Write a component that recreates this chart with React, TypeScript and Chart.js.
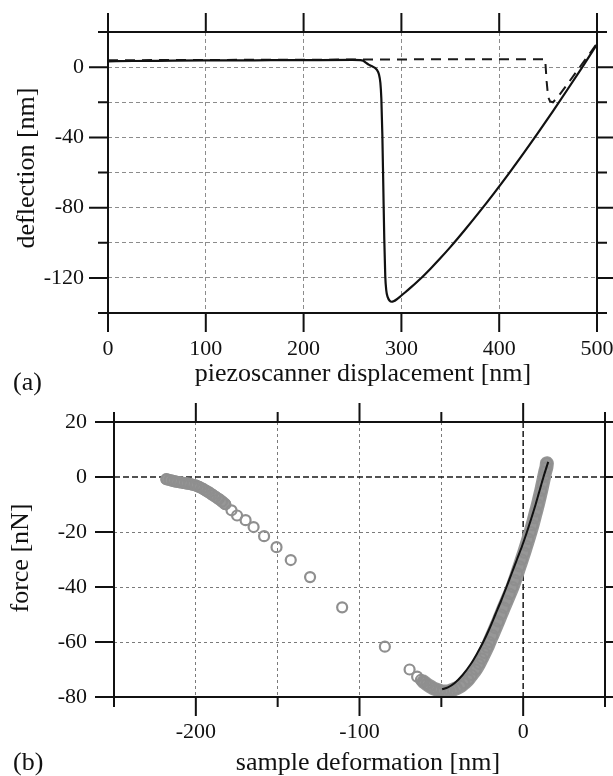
import { useEffect, useRef } from 'react';
import { Chart, registerables } from 'chart.js';

Chart.register(...registerables);

const FONT = '"Liberation Serif", "Times New Roman", serif';

// ---------- panel (a): deflection vs piezoscanner displacement ----------
const retractX = [0, 25, 50, 100, 150, 200, 250, 258, 261, 264, 267, 270, 273, 275, 277, 278.5, 279.5, 280.5, 281.5, 282.5, 283.5, 284.5, 286, 288, 290, 292, 295, 299, 304, 310, 320, 330, 340, 350, 365, 380, 395, 410, 425, 440, 455, 470, 485, 500];
const retractY = [3.3, 3.5, 3.6, 3.8, 3.9, 4.0, 4.1, 4.0, 3.6, 2.4, 1.3, 0.5, -0.4, -1.6, -4, -9, -18, -38, -68, -98, -119, -127, -131, -133, -133.6, -133.3, -132.3, -130.5, -128.2, -125.3, -120.2, -114.6, -108.7, -102.5, -92.6, -82.3, -71.6, -60.5, -49, -37.2, -25, -12.6, 0, 13];
const approachX = [0, 100, 200, 300, 400, 447, 448.5, 450, 452, 455, 460, 470, 480, 490, 500];
const approachY = [3.9, 4.1, 4.2, 4.4, 4.5, 4.5, -8, -17, -19.5, -20, -17, -9.5, -1.8, 5.8, 13.5];
const aXTicks = [0, 100, 200, 300, 400, 500];
const aYTicks = [-140, -120, -100, -80, -60, -40, -20, 0, 20];

// ---------- panel (b): force vs sample deformation ----------
const denseStartX = [-218, -216, -214, -212, -210, -208, -206, -204, -202, -200, -198, -196, -194, -192, -190, -188, -186, -184, -182];
const denseStartY = [-0.8, -1.1, -1.4, -1.7, -1.9, -2.1, -2.3, -2.5, -2.8, -3.1, -3.6, -4.2, -4.9, -5.6, -6.4, -7.2, -8.0, -8.9, -9.9];
const sparseX = [-178.2, -174.8, -169.6, -164.7, -158.3, -150.7, -142, -130.2, -110.6, -84.5, -69.4, -64.8, -62.5];
const sparseY = [-12.1, -14, -15.7, -18.2, -21.5, -25.5, -30.2, -36.4, -47.4, -61.7, -70, -72.6, -73.8];
const contactX = [-61, -59, -57, -55, -53, -51, -49, -47, -45, -43, -40.5, -38, -36, -33.5, -31.5, -29, -27, -25.3, -23.6, -22, -20.6, -18.8, -17, -15.2, -13.5, -11.8, -10, -8.2, -6.5, -5, -3.6, -2.2, -0.8, 0.6, 1.9, 3.2, 4.5, 5.7, 6.8, 7.9, 9, 10, 11, 11.9, 12.8, 13.5, 14.2, 14.5];
const contactY = [-74.4, -75.3, -76.1, -76.8, -77.3, -77.7, -78, -78, -77.8, -77.4, -76.8, -76, -75, -73.6, -72, -70, -68, -66, -64, -62, -60, -57.5, -55, -52.5, -50, -47.5, -45, -42.5, -40, -37.5, -35, -32.5, -30, -27.5, -25, -22.5, -20, -17.5, -15, -12.5, -10, -7.5, -5, -2.5, 0, 2, 3.5, 5];
const fitX = [-49.5, -46, -42, -37, -32, -28, -24.4, -20.5, -17, -13.5, -10.2, -7, -3.8, -0.6, 2.3, 5, 7.6, 10, 12.4, 15.3];
const fitY = [-77.2, -76.5, -75, -72, -68, -64, -60, -55, -50, -45, -40, -35, -30, -25, -20, -15, -10, -5, 0, 5.5];
const bXTicks = [-250, -200, -150, -100, -50, 0, 50];
const bYTicks = [-80, -60, -40, -20, 0, 20];

const pts = (xs: number[], ys: number[]) => xs.map((x, i) => ({ x, y: ys[i] }));

type TextItem = { text: string; x: number; y: number; rot?: boolean; align?: CanvasTextAlign };
type FrameOpts = {
  xMarks: number[];
  yMarks: number[];
  xMajor: (v: number) => boolean;
  yMajor: (v: number) => boolean;
  zero?: boolean;
  texts: TextItem[];
};

function makeFrame(o: FrameOpts) {
  return {
    id: 'frame',
    beforeDatasetsDraw(chart: any) {
      if (!o.zero) return;
      const { ctx, chartArea: a, scales } = chart;
      const px = scales.x.getPixelForValue(0);
      const py = scales.y.getPixelForValue(0);
      ctx.save();
      ctx.strokeStyle = '#1a1a1a';
      ctx.lineWidth = 1.5;
      ctx.setLineDash([6, 3]);
      ctx.beginPath();
      ctx.moveTo(a.left, py);
      ctx.lineTo(a.right, py);
      ctx.moveTo(px, a.top);
      ctx.lineTo(px, a.bottom);
      ctx.stroke();
      ctx.restore();
    },
    afterDraw(chart: any) {
      const { ctx, chartArea: a, scales } = chart;
      ctx.save();
      ctx.strokeStyle = '#111';
      ctx.lineWidth = 2;
      ctx.setLineDash([]);
      ctx.beginPath();
      ctx.rect(a.left, a.top, a.right - a.left, a.bottom - a.top);
      ctx.stroke();
      ctx.beginPath();
      for (const v of o.xMarks) {
        const p = scales.x.getPixelForValue(v);
        const L = o.xMajor(v) ? 19 : 10;
        ctx.moveTo(p, a.bottom);
        ctx.lineTo(p, a.bottom + L);
        ctx.moveTo(p, a.top);
        ctx.lineTo(p, a.top - L);
      }
      for (const v of o.yMarks) {
        const p = scales.y.getPixelForValue(v);
        const L = o.yMajor(v) ? 19 : 10;
        ctx.moveTo(a.left - L, p);
        ctx.lineTo(a.left, p);
        ctx.moveTo(a.right, p);
        ctx.lineTo(a.right + L, p);
      }
      ctx.stroke();
      ctx.fillStyle = '#111';
      ctx.font = `26px ${FONT}`;
      ctx.textBaseline = 'alphabetic';
      for (const t of o.texts) {
        ctx.save();
        ctx.translate(t.x, t.y);
        if (t.rot) ctx.rotate(-Math.PI / 2);
        ctx.textAlign = t.align || 'center';
        ctx.fillText(t.text, 0, 0);
        ctx.restore();
      }
      ctx.restore();
    },
  };
}

function axis(
  min: number,
  max: number,
  values: number[],
  label: (v: number) => string,
  size: { w?: number; h?: number },
  padding: number,
  gridColor: string,
  dash: number[],
  zeroHidden: boolean
) {
  return {
    type: 'linear',
    min,
    max,
    afterBuildTicks: (s: any) => {
      s.ticks = values.map((v) => ({ value: v }));
    },
    afterFit: (s: any) => {
      if (size.w !== undefined) s.width = size.w;
      if (size.h !== undefined) s.height = size.h;
      s.paddingLeft = 0;
      s.paddingRight = 0;
      s.paddingTop = 0;
      s.paddingBottom = 0;
    },
    grid: {
      color: (c: any) => (zeroHidden && c.tick && c.tick.value === 0 ? 'rgba(0,0,0,0)' : gridColor),
      lineWidth: 1,
      drawTicks: false,
    },
    border: { display: false, dash },
    ticks: {
      padding,
      color: '#111',
      font: { family: FONT, size: 22 },
      maxRotation: 0,
      autoSkip: false,
      callback: (v: any) => label(Number(v)),
    },
  };
}

export default function App() {
  const r1 = useRef<HTMLCanvasElement>(null);
  const r2 = useRef<HTMLCanvasElement>(null);

  useEffect(() => {
    const c1 = new Chart(r1.current as HTMLCanvasElement, {
      type: 'scatter',
      data: {
        datasets: [
          {
            data: pts(retractX, retractY),
            showLine: true,
            borderColor: '#111',
            borderWidth: 2.2,
            pointRadius: 0,
            cubicInterpolationMode: 'monotone',
          } as any,
          {
            data: pts(approachX, approachY),
            showLine: true,
            borderColor: '#1a1a1a',
            borderWidth: 2,
            borderDash: [10, 7],
            pointRadius: 0,
            tension: 0,
          } as any,
        ],
      },
      options: {
        animation: false,
        responsive: false,
        layout: { padding: { top: 32, right: 16, left: 0, bottom: 0 } },
        plugins: { legend: { display: false }, tooltip: { enabled: false } },
        scales: {
          x: axis(0, 500, aXTicks, (v) => String(v), { h: 87 }, 23, '#8c8c8c', [4, 3], false) as any,
          y: axis(-140, 20, aYTicks, (v) => (v % 40 === 0 ? String(v) : ''), { w: 108 }, 24, '#8c8c8c', [4, 3], false) as any,
        },
      },
      plugins: [
        makeFrame({
          xMarks: aXTicks,
          yMarks: aYTicks,
          xMajor: () => true,
          yMajor: (v) => v % 40 === 0,
          texts: [
            { text: 'piezoscanner displacement [nm]', x: 363, y: 381 },
            { text: '(a)', x: 13, y: 390, align: 'left' },
            { text: 'deflection [nm]', x: 33.5, y: 168, rot: true },
          ],
        }),
      ],
    } as any);

    const c2 = new Chart(r2.current as HTMLCanvasElement, {
      type: 'scatter',
      data: {
        datasets: [
          {
            data: pts(fitX, fitY),
            showLine: true,
            borderColor: '#111',
            borderWidth: 2,
            pointRadius: 0,
            tension: 0.3,
          } as any,
          {
            data: [...pts(denseStartX, denseStartY), ...pts(sparseX, sparseY), ...pts(contactX, contactY)],
            showLine: false,
            borderColor: '#8f8f8f',
            backgroundColor: 'rgba(0,0,0,0)',
            pointRadius: 5,
            pointBorderWidth: 2.2,
          } as any,
          {
            data: pts(contactX, contactY),
            showLine: true,
            borderColor: '#979797',
            borderWidth: 14,
            borderCapStyle: 'round',
            borderJoinStyle: 'round',
            pointRadius: 0,
            tension: 0.25,
          } as any,
          {
            data: pts(denseStartX, denseStartY),
            showLine: true,
            borderColor: '#979797',
            borderWidth: 12,
            borderCapStyle: 'round',
            borderJoinStyle: 'round',
            pointRadius: 0,
            tension: 0.25,
          } as any,
        ],
      },
      options: {
        animation: false,
        responsive: false,
        layout: { padding: { top: 22, right: 8, left: 0, bottom: 0 } },
        plugins: { legend: { display: false }, tooltip: { enabled: false } },
        scales: {
          x: axis(-250, 50, bXTicks, (v) => (v % 100 === 0 ? String(v) : ''), { h: 79 }, 22, '#7a7a7a', [3, 3], true) as any,
          y: axis(-80, 20, bYTicks, (v) => String(v), { w: 114 }, 27, '#7a7a7a', [3, 3], true) as any,
        },
      },
      plugins: [
        makeFrame({
          xMarks: bXTicks,
          yMarks: bYTicks,
          xMajor: (v) => v % 100 === 0,
          yMajor: () => true,
          zero: true,
          texts: [
            { text: 'sample deformation [nm]', x: 368, y: 370 },
            { text: '(b)', x: 13, y: 370, align: 'left' },
            { text: 'force [nN]', x: 28, y: 158, rot: true },
          ],
        }),
      ],
    } as any);

    return () => {
      c1.destroy();
      c2.destroy();
    };
  }, []);

  return (
    <div style={{ position: 'absolute', left: 0, top: 0, width: 613, height: 776, background: '#fff' }}>
      <canvas ref={r1} width={613} height={400} style={{ position: 'absolute', left: 0, top: 0, width: 613, height: 400 }} />
      <canvas ref={r2} width={613} height={376} style={{ position: 'absolute', left: 0, top: 400, width: 613, height: 376 }} />
    </div>
  );
}
